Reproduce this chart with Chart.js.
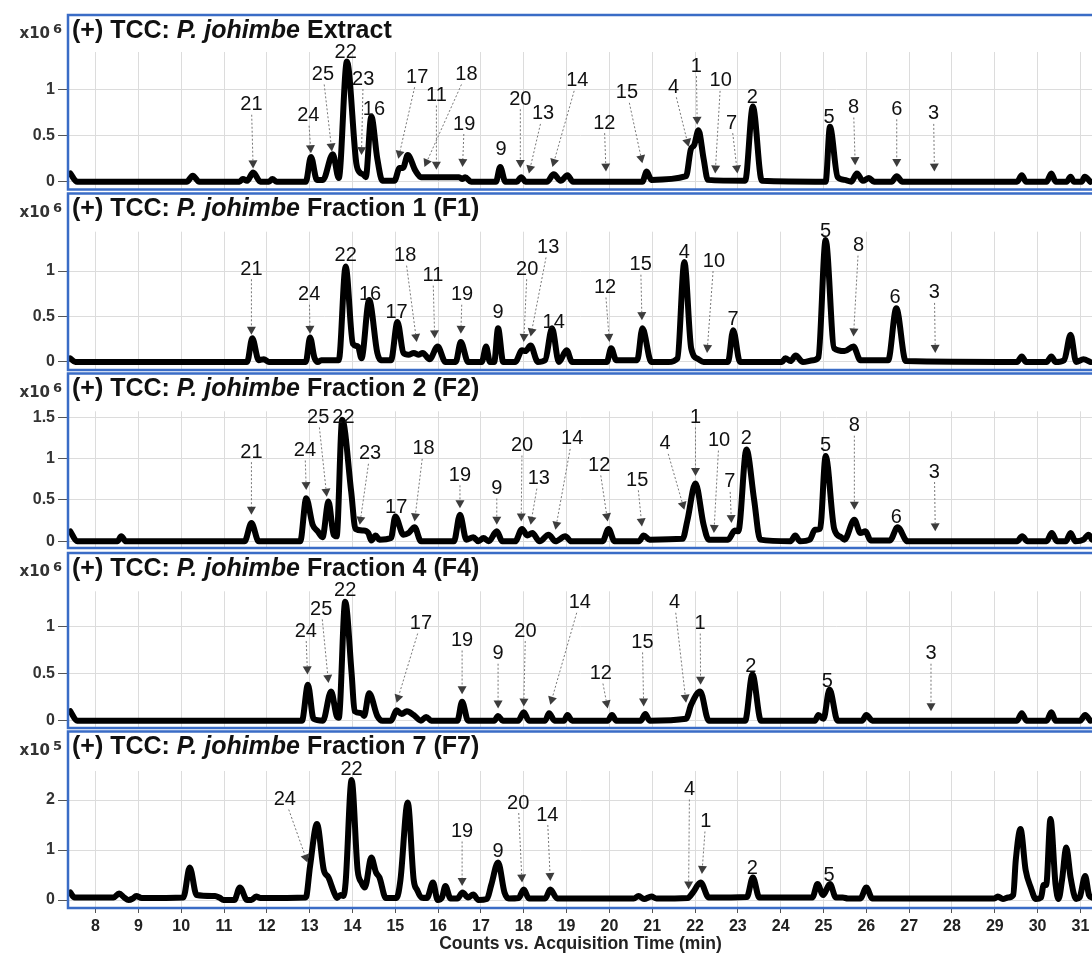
<!DOCTYPE html>
<html>
<head>
<meta charset="utf-8">
<script src="https://cdn.jsdelivr.net/npm/chart.js"></script>
<style>
    body { margin: 0; background: #fff; width: 1092px; height: 955px; overflow: hidden; position: relative; }
    canvas { position: absolute; left: 0; top: 0; }
</style>
</head>
<body>
<script>
// acquisition time axis (min)
const timeRange = [7.38, 31.27];
const timeTicks = [8, 9, 10, 11, 12, 13, 14, 15, 16, 17, 18, 19, 20, 21, 22, 23, 24, 25, 26, 27, 28, 29, 30, 31];
const xTitle = 'Counts vs. Acquisition Time (min)';

const sampleNames = ['Extract', 'Fraction 1 (F1)', 'Fraction 2 (F2)', 'Fraction 4 (F4)', 'Fraction 7 (F7)'];
const countExponents = ['6', '6', '6', '6', '5'];
const countTicks = [[0, 0.5, 1], [0, 0.5, 1], [0, 0.5, 1, 1.5], [0, 0.5, 1], [0, 1, 2]];
const countRanges = [[-0.074, 1.414], [-0.077, 1.432], [-0.069, 1.572], [-0.067, 1.371], [-0.14, 2.58]];

// TCC traces: [time, counts]
const extractTrace = [[7.41,0.09],[7.57,0],[10.13,0],[10.27,0.065],[10.42,0],[11.36,0],[11.44,0.03],[11.54,0.01],[11.68,0.1],[11.85,0],[12.05,0],[12.13,0.03],[12.23,0],[12.91,0],[13.03,0.27],[13.17,0.02],[13.31,0.02],[13.54,0.3],[13.68,0.04],[13.87,1.31],[14.09,0.2],[14.17,0.1],[14.25,0.08],[14.31,0.05],[14.44,0.71],[14.58,0.25],[14.7,0.01],[14.98,0.01],[15.1,0.15],[15.18,0.15],[15.29,0.29],[15.47,0.12],[15.6,0.05],[16.49,0.05],[16.57,0.03],[16.63,0.05],[16.77,0],[17.35,0],[17.45,0.16],[17.57,0],[17.84,0],[17.94,0.05],[18.04,0],[18.54,0],[18.7,0.08],[18.86,0.01],[19.02,0.07],[19.15,0],[20.77,0],[20.87,0.11],[20.98,0.02],[21.79,0.06],[21.9,0.35],[21.98,0.4],[22.08,0.56],[22.2,0.25],[22.3,0.02],[23.17,0.01],[23.35,0.82],[23.56,0.01],[25.05,0],[25.15,0.6],[25.33,0.05],[25.49,0.02],[25.65,0],[25.78,0.09],[25.92,0.01],[26.06,0.04],[26.18,0],[26.59,0],[26.71,0.06],[26.84,0],[29.52,0],[29.63,0.07],[29.73,0],[30.21,0],[30.32,0.09],[30.42,0],[30.68,0],[30.77,0.055],[30.85,0],[31.03,0],[31.1,0.055],[31.23,0]];
const f1Trace = [[7.41,0.04],[7.53,0],[11.44,0],[11.54,0],[11.66,0.26],[11.81,0.02],[11.93,0.03],[12.05,0],[12.91,0],[13.01,0.27],[13.11,0.05],[13.19,0],[13.27,0.02],[13.68,0.02],[13.84,1.05],[14.01,0.2],[14.13,0.17],[14.21,0.04],[14.39,0.68],[14.58,0.1],[14.66,0.02],[14.9,0.02],[15.05,0.44],[15.19,0.1],[15.31,0.08],[15.43,0.1],[15.55,0.08],[15.64,0.1],[15.8,0.03],[15.99,0.17],[16.17,0],[16.41,0],[16.53,0.22],[16.7,0],[17.02,0],[17.12,0.17],[17.21,0],[17.31,0],[17.4,0.37],[17.52,0],[17.8,0],[17.96,0.13],[18.04,0.12],[18.16,0.18],[18.33,0],[18.5,0.02],[18.66,0.37],[18.82,0],[19.0,0.13],[19.13,0],[19.94,0],[20.04,0.15],[20.16,0.02],[20.65,0.02],[20.77,0.37],[20.98,0],[21.38,0],[21.59,0.04],[21.75,1.1],[21.91,0.15],[22.08,0.03],[22.2,0],[22.77,0],[22.89,0.35],[23.05,0],[24.03,0],[24.11,0.04],[24.23,0.01],[24.35,0.07],[24.52,0],[24.76,0.02],[24.88,0.05],[25.05,1.34],[25.25,0.15],[25.49,0.12],[25.7,0.17],[25.86,0.02],[26.51,0.02],[26.7,0.59],[26.92,0.01],[29.52,0],[29.63,0.06],[29.73,0],[30.21,0],[30.32,0.06],[30.42,0],[30.62,0.02],[30.77,0.3],[30.9,0],[31.07,0.03],[31.23,0]];
const f2Trace = [[7.41,0.12],[7.57,0],[8.51,0],[8.6,0.06],[8.71,0],[11.48,0],[11.64,0.22],[11.81,0],[12.78,0],[12.92,0.52],[13.07,0.2],[13.19,0.12],[13.3,0.05],[13.44,0.48],[13.56,0.08],[13.63,0.06],[13.76,1.47],[13.97,0.6],[14.07,0.15],[14.25,0.13],[14.37,0.1],[14.44,0.01],[14.54,0.07],[14.63,0.02],[14.9,0.04],[15.0,0.3],[15.19,0.08],[15.31,0.1],[15.45,0.17],[15.6,0],[16.37,0],[16.51,0.32],[16.66,0.02],[16.82,0.05],[16.94,0],[17.06,0.04],[17.18,0],[17.37,0.12],[17.5,0],[17.8,0],[17.96,0.15],[18.08,0.07],[18.2,0.1],[18.37,0],[18.58,0.08],[18.74,0],[18.97,0.06],[19.11,0],[19.84,0],[19.98,0.15],[20.12,0],[20.69,0],[20.8,0.07],[20.94,0.02],[21.71,0.03],[21.82,0.25],[22.01,0.7],[22.2,0.2],[22.32,0.02],[22.77,0.02],[22.93,0.13],[23.01,0.12],[23.2,1.11],[23.38,0.5],[23.52,0.02],[24.23,0],[24.34,0.07],[24.45,0],[24.68,0.02],[24.8,0.14],[24.92,0.15],[25.05,1.03],[25.25,0.15],[25.41,0.05],[25.49,0.02],[25.72,0.26],[25.86,0.1],[25.98,0.12],[26.1,0.01],[26.55,0.01],[26.73,0.17],[26.96,0],[29.52,0],[29.64,0.06],[29.76,0],[30.21,0],[30.33,0.1],[30.45,0],[30.66,0],[30.77,0.1],[30.88,0],[31.07,0.02],[31.19,0.08],[31.27,0.02]];
const f4Trace = [[7.41,0.1],[7.57,0],[12.82,0],[12.96,0.38],[13.09,0.02],[13.31,0],[13.5,0.31],[13.63,0.05],[13.68,0.03],[13.83,1.26],[13.98,0.5],[14.05,0.1],[14.21,0.08],[14.27,0.05],[14.39,0.29],[14.58,0.05],[14.7,0],[14.9,0],[15.03,0.11],[15.15,0.07],[15.27,0.1],[15.43,0.06],[15.6,0],[15.72,0.04],[15.84,0],[16.45,0],[16.56,0.2],[16.7,0],[17.31,0],[17.4,0.05],[17.51,0],[17.87,0],[18.0,0.09],[18.12,0],[18.5,0],[18.59,0.08],[18.72,0],[18.94,0],[19.02,0.06],[19.13,0],[19.96,0],[20.06,0.06],[20.16,0],[20.73,0],[20.84,0.07],[20.94,0],[21.79,0.02],[21.91,0.17],[22.12,0.31],[22.32,0],[23.17,0],[23.34,0.49],[23.54,0],[24.8,0],[24.88,0.06],[25.0,0.02],[25.14,0.33],[25.33,0],[25.9,0],[26.0,0.06],[26.14,0],[29.52,0],[29.63,0.08],[29.74,0],[30.21,0],[30.32,0.09],[30.42,0],[30.99,0],[31.11,0.06],[31.23,0]];
const f7Trace = [[7.41,0.15],[7.51,0.05],[8.42,0.05],[8.55,0.13],[8.67,0.05],[8.77,0],[8.87,0.03],[8.95,0.08],[9.08,0.04],[10.05,0.05],[10.2,0.65],[10.36,0.1],[10.79,0.08],[10.89,0.05],[10.99,0],[11.24,0],[11.37,0.25],[11.54,0],[11.64,0],[11.75,0.07],[11.85,0.04],[12.91,0.05],[13.01,0.68],[13.17,1.52],[13.33,0.6],[13.44,0.45],[13.57,0.15],[13.64,0.04],[13.72,0.1],[13.79,0.08],[13.84,0.35],[13.98,2.4],[14.12,0.6],[14.21,0.35],[14.29,0.25],[14.44,0.85],[14.55,0.55],[14.63,0.45],[14.78,0.04],[15.03,0.04],[15.12,0.4],[15.29,1.95],[15.43,0.4],[15.51,0.2],[15.61,0.05],[15.74,0.04],[15.88,0.35],[15.99,0],[16.09,0.05],[16.17,0.28],[16.29,0.03],[16.45,0.03],[16.57,0.15],[16.7,0.05],[16.82,0.11],[16.94,0],[17.14,0.02],[17.24,0.3],[17.4,0.75],[17.55,0.15],[17.65,0.03],[17.88,0.04],[18.0,0.21],[18.12,0.03],[18.5,0.03],[18.62,0.21],[18.78,0.03],[20.57,0.03],[20.68,0.08],[20.81,0.02],[20.98,0.07],[21.1,0.03],[21.83,0.04],[21.95,0.15],[22.13,0.35],[22.32,0.05],[23.21,0.06],[23.35,0.45],[23.5,0.05],[24.74,0.05],[24.86,0.32],[24.99,0.1],[25.15,0.32],[25.29,0.05],[25.45,0.05],[25.57,0.03],[25.86,0.03],[26.0,0.25],[26.14,0.03],[28.99,0.03],[29.07,0.07],[29.19,0.02],[29.31,0.05],[29.43,0.1],[29.49,0.8],[29.6,1.42],[29.72,0.6],[29.84,0.25],[29.96,0.02],[30.08,0.05],[30.14,0.3],[30.2,0.3],[30.3,1.62],[30.42,0.3],[30.49,0.02],[30.57,0.4],[30.67,1.05],[30.77,0.45],[30.9,0.02],[30.98,0.05],[31.11,0.48],[31.2,0.1],[31.27,0.05]];

// peak labels: [label, labelTime, labelCounts, arrowTime, arrowCounts]
const extractPeaks = [['21',11.64,0.85,11.68,0.145],['24',12.97,0.73,13.03,0.31],['25',13.31,1.18,13.52,0.33],['22',13.84,1.42],['23',14.25,1.13,14.21,0.29],['16',14.5,0.8],['17',15.51,1.15,15.07,0.25],['11',15.96,0.95,15.96,0.13],['18',16.66,1.18,15.68,0.16],['19',16.61,0.64,16.57,0.16],['9',17.47,0.36],['20',17.92,0.91,17.92,0.15],['13',18.45,0.75,18.12,0.09],['14',19.25,1.11,18.67,0.16],['12',19.88,0.65,19.92,0.11],['15',20.41,0.98,20.77,0.2],['4',21.5,1.04,21.85,0.38],['1',22.03,1.27,22.05,0.62],['10',22.6,1.11,22.47,0.09],['7',22.85,0.65,22.99,0.09],['2',23.34,0.93],['5',25.13,0.71],['8',25.7,0.82,25.74,0.18],['6',26.71,0.8,26.71,0.16],['3',27.57,0.75,27.59,0.11]];
const f1Peaks = [['21',11.64,1.03,11.64,0.3],['24',12.99,0.75,13.01,0.31],['22',13.84,1.18],['16',14.41,0.75],['17',15.03,0.55],['18',15.23,1.18,15.5,0.22],['11',15.88,0.96,15.92,0.26],['19',16.56,0.75,16.53,0.31],['9',17.4,0.55],['20',18.08,1.03,18.0,0.22],['13',18.57,1.27,18.16,0.28],['14',18.7,0.44],['12',19.9,0.83,20.0,0.22],['15',20.73,1.08,20.76,0.46],['4',21.75,1.21],['10',22.44,1.12,22.28,0.1],['7',22.89,0.48],['5',25.05,1.45],['8',25.82,1.29,25.7,0.28],['6',26.67,0.72],['3',27.59,0.77,27.61,0.1]];
const f2Peaks = [['21',11.64,1.09,11.64,0.32],['24',12.89,1.11,12.92,0.62],['25',13.2,1.51,13.4,0.54],['22',13.79,1.51],['23',14.41,1.07,14.17,0.2],['17',15.02,0.42],['18',15.66,1.13,15.45,0.24],['19',16.51,0.81,16.51,0.4],['9',17.37,0.65,17.37,0.2],['20',17.96,1.17,17.94,0.24],['13',18.35,0.77,18.16,0.2],['14',19.13,1.25,18.74,0.14],['12',19.76,0.93,19.96,0.24],['15',20.65,0.75,20.76,0.18],['4',21.3,1.19,21.75,0.38],['1',22.01,1.51,22.01,0.79],['10',22.56,1.23,22.44,0.1],['7',22.81,0.73,22.85,0.22],['2',23.2,1.25],['5',25.05,1.17],['8',25.72,1.41,25.72,0.38],['6',26.7,0.3],['3',27.59,0.85,27.61,0.12]];
const f4Peaks = [['24',12.91,0.96,12.95,0.49],['25',13.27,1.19,13.44,0.4],['22',13.83,1.39],['17',15.6,1.04,15.03,0.19],['19',16.56,0.86,16.56,0.28],['9',17.4,0.72,17.4,0.13],['20',18.04,0.96,18.0,0.15],['14',19.31,1.26,18.62,0.17],['12',19.8,0.51,19.96,0.13],['15',20.77,0.84,20.8,0.15],['4',21.52,1.26,21.79,0.19],['1',22.12,1.04,22.13,0.38],['2',23.3,0.59],['5',25.09,0.43],['3',27.51,0.72,27.51,0.1]];
const f7Peaks = [['24',12.42,2.03,12.95,0.75],['22',13.98,2.63],['19',16.56,1.39,16.56,0.28],['9',17.4,0.99],['20',17.87,1.96,17.96,0.35],['14',18.55,1.72,18.62,0.38],['4',21.87,2.23,21.85,0.21],['1',22.25,1.59,22.16,0.52],['2',23.34,0.65],['5',25.13,0.52]];

const allTraces = [extractTrace, f1Trace, f2Trace, f4Trace, f7Trace];
const allPeaks = [extractPeaks, f1Peaks, f2Peaks, f4Peaks, f7Peaks];

// page layout of the stacked panels (px)
const panelBoxes = [
    { frameTop: 15, plotTop: 52, frameBottom: 189.5 },
    { frameTop: 193.5, plotTop: 231.7, frameBottom: 370 },
    { frameTop: 373.5, plotTop: 411.3, frameBottom: 548 },
    { frameTop: 553, plotTop: 591.3, frameBottom: 728 },
    { frameTop: 731.5, plotTop: 771, frameBottom: 908 }
];
const FONT = '"Liberation Sans", Arial, sans-serif';
const frameBlue = '#3a6cc6';

const panelDecor = {
    id: 'panelDecor',
    afterDatasetsDraw(chart, args, opts) {
        let ctx = chart.ctx;
        let xs = chart.scales.x, ys = chart.scales.y;
        let box = panelBoxes[opts.index];
        ctx.save();

        // peak numbers and dotted arrows
        ctx.font = '20px ' + FONT;
        ctx.textAlign = 'center';
        ctx.textBaseline = 'middle';
        for (let p of allPeaks[opts.index]) {
            let lx = xs.getPixelForValue(p[1]), ly = ys.getPixelForValue(p[2]);
            ctx.fillStyle = '#111';
            ctx.fillText(p[0], lx, ly + 1);
            if (p.length < 5) continue;
            let tx = xs.getPixelForValue(p[3]), ty = ys.getPixelForValue(p[4]);
            let dx = tx - lx, dy = ty - ly, len = Math.hypot(dx, dy);
            let ux = dx / len, uy = dy / len;
            let hw = ctx.measureText(p[0]).width / 2 + 2, hh = 11;
            let k = Math.min(dx ? hw / Math.abs(dx) : 1, dy ? hh / Math.abs(dy) : 1);
            let head = 8;
            ctx.beginPath();
            ctx.setLineDash([2, 2]);
            ctx.strokeStyle = '#777';
            ctx.lineWidth = 1;
            ctx.moveTo(lx + dx * k, ly + dy * k);
            ctx.lineTo(tx - ux * head, ty - uy * head);
            ctx.stroke();
            ctx.setLineDash([]);
            ctx.beginPath();
            ctx.fillStyle = '#3c3c3c';
            ctx.moveTo(tx, ty);
            ctx.lineTo(tx - ux * head - uy * 4.5, ty - uy * head + ux * 4.5);
            ctx.lineTo(tx - ux * head + uy * 4.5, ty - uy * head - ux * 4.5);
            ctx.closePath();
            ctx.fill();
        }

        // blue frame round title + plot
        ctx.strokeStyle = frameBlue;
        ctx.lineWidth = 2.5;
        ctx.strokeRect(chart.chartArea.left - 1, box.frameTop, chart.width, box.frameBottom - box.frameTop);

        // panel title
        let x = 72, y = box.frameTop + 22.5;
        ctx.textAlign = 'left';
        ctx.textBaseline = 'alphabetic';
        ctx.fillStyle = '#111';
        ctx.font = 'bold 25px ' + FONT;
        ctx.fillText('(+) TCC: ', x, y);
        x += ctx.measureText('(+) TCC: ').width;
        ctx.font = 'italic bold 25px ' + FONT;
        ctx.fillText('P. johimbe', x, y);
        x += ctx.measureText('P. johimbe').width;
        ctx.font = 'bold 25px ' + FONT;
        ctx.fillText(' ' + sampleNames[opts.index], x, y);

        // exponent label
        ctx.fillStyle = '#333';
        ctx.font = 'bold 15px "DejaVu Sans", sans-serif';
        ctx.textAlign = 'right';
        ctx.fillText('x10', 50, box.frameTop + 23);
        ctx.font = 'bold 13px "DejaVu Sans", sans-serif';
        ctx.textAlign = 'left';
        ctx.fillText(countExponents[opts.index], 53, box.frameTop + 18);
        ctx.restore();
    }
};

document.addEventListener('DOMContentLoaded', function () {
    allTraces.forEach(function (trace, i) {
        let canvas = document.createElement('canvas');
        canvas.width = 1092;
        canvas.height = 955;
        document.body.appendChild(canvas);
        let box = panelBoxes[i];
        let last = i === allTraces.length - 1;
        let bottomSpace = 955 - (box.frameBottom - 1);

        new Chart(canvas.getContext('2d'), {
            type: 'line',
            data: {
                datasets: [{
                    data: trace.map(p => ({ x: p[0], y: p[1] })),
                    borderColor: '#000',
                    borderWidth: 6,
                    pointRadius: 0,
                    cubicInterpolationMode: 'monotone',
                    borderJoinStyle: 'round',
                    borderCapStyle: 'round',
                    fill: false
                }]
            },
            options: {
                responsive: false,
                animation: false,
                devicePixelRatio: 1,
                layout: { padding: { top: box.plotTop, bottom: last ? 0 : bottomSpace, left: 0, right: 0 } },
                plugins: {
                    legend: { display: false },
                    tooltip: { enabled: false },
                    panelDecor: { index: i }
                },
                scales: {
                    x: {
                        type: 'linear',
                        min: timeRange[0],
                        max: timeRange[1],
                        afterBuildTicks: s => { s.ticks = timeTicks.map(v => ({ value: v })); },
                        afterFit: s => { s.height = last ? bottomSpace : 0; s.paddingLeft = 0; s.paddingRight = 0; },
                        grid: { color: '#dcdcdc', drawTicks: last, tickLength: 6, tickColor: '#555' },
                        border: { display: false },
                        ticks: {
                            display: last, padding: 4, color: '#222', maxRotation: 0, autoSkip: false,
                            font: { family: FONT, size: 16, weight: 'bold' }
                        },
                        title: {
                            display: last, text: xTitle, color: '#222', padding: { top: 0, bottom: 0 },
                            font: { family: FONT, size: 17.5, weight: 'bold' }
                        }
                    },
                    y: {
                        min: countRanges[i][0],
                        max: countRanges[i][1],
                        afterBuildTicks: s => { s.ticks = countTicks[i].map(v => ({ value: v })); },
                        afterFit: s => { s.width = 69; s.paddingTop = 0; s.paddingBottom = 0; },
                        grid: { color: '#dcdcdc', tickLength: 11, tickColor: '#555' },
                        border: { display: false },
                        ticks: {
                            padding: 3, color: '#333', callback: v => String(v),
                            font: { family: FONT, size: 16, weight: 'bold' }
                        }
                    }
                }
            },
            plugins: [panelDecor]
        });
    });
});
</script>
</body>
</html>
